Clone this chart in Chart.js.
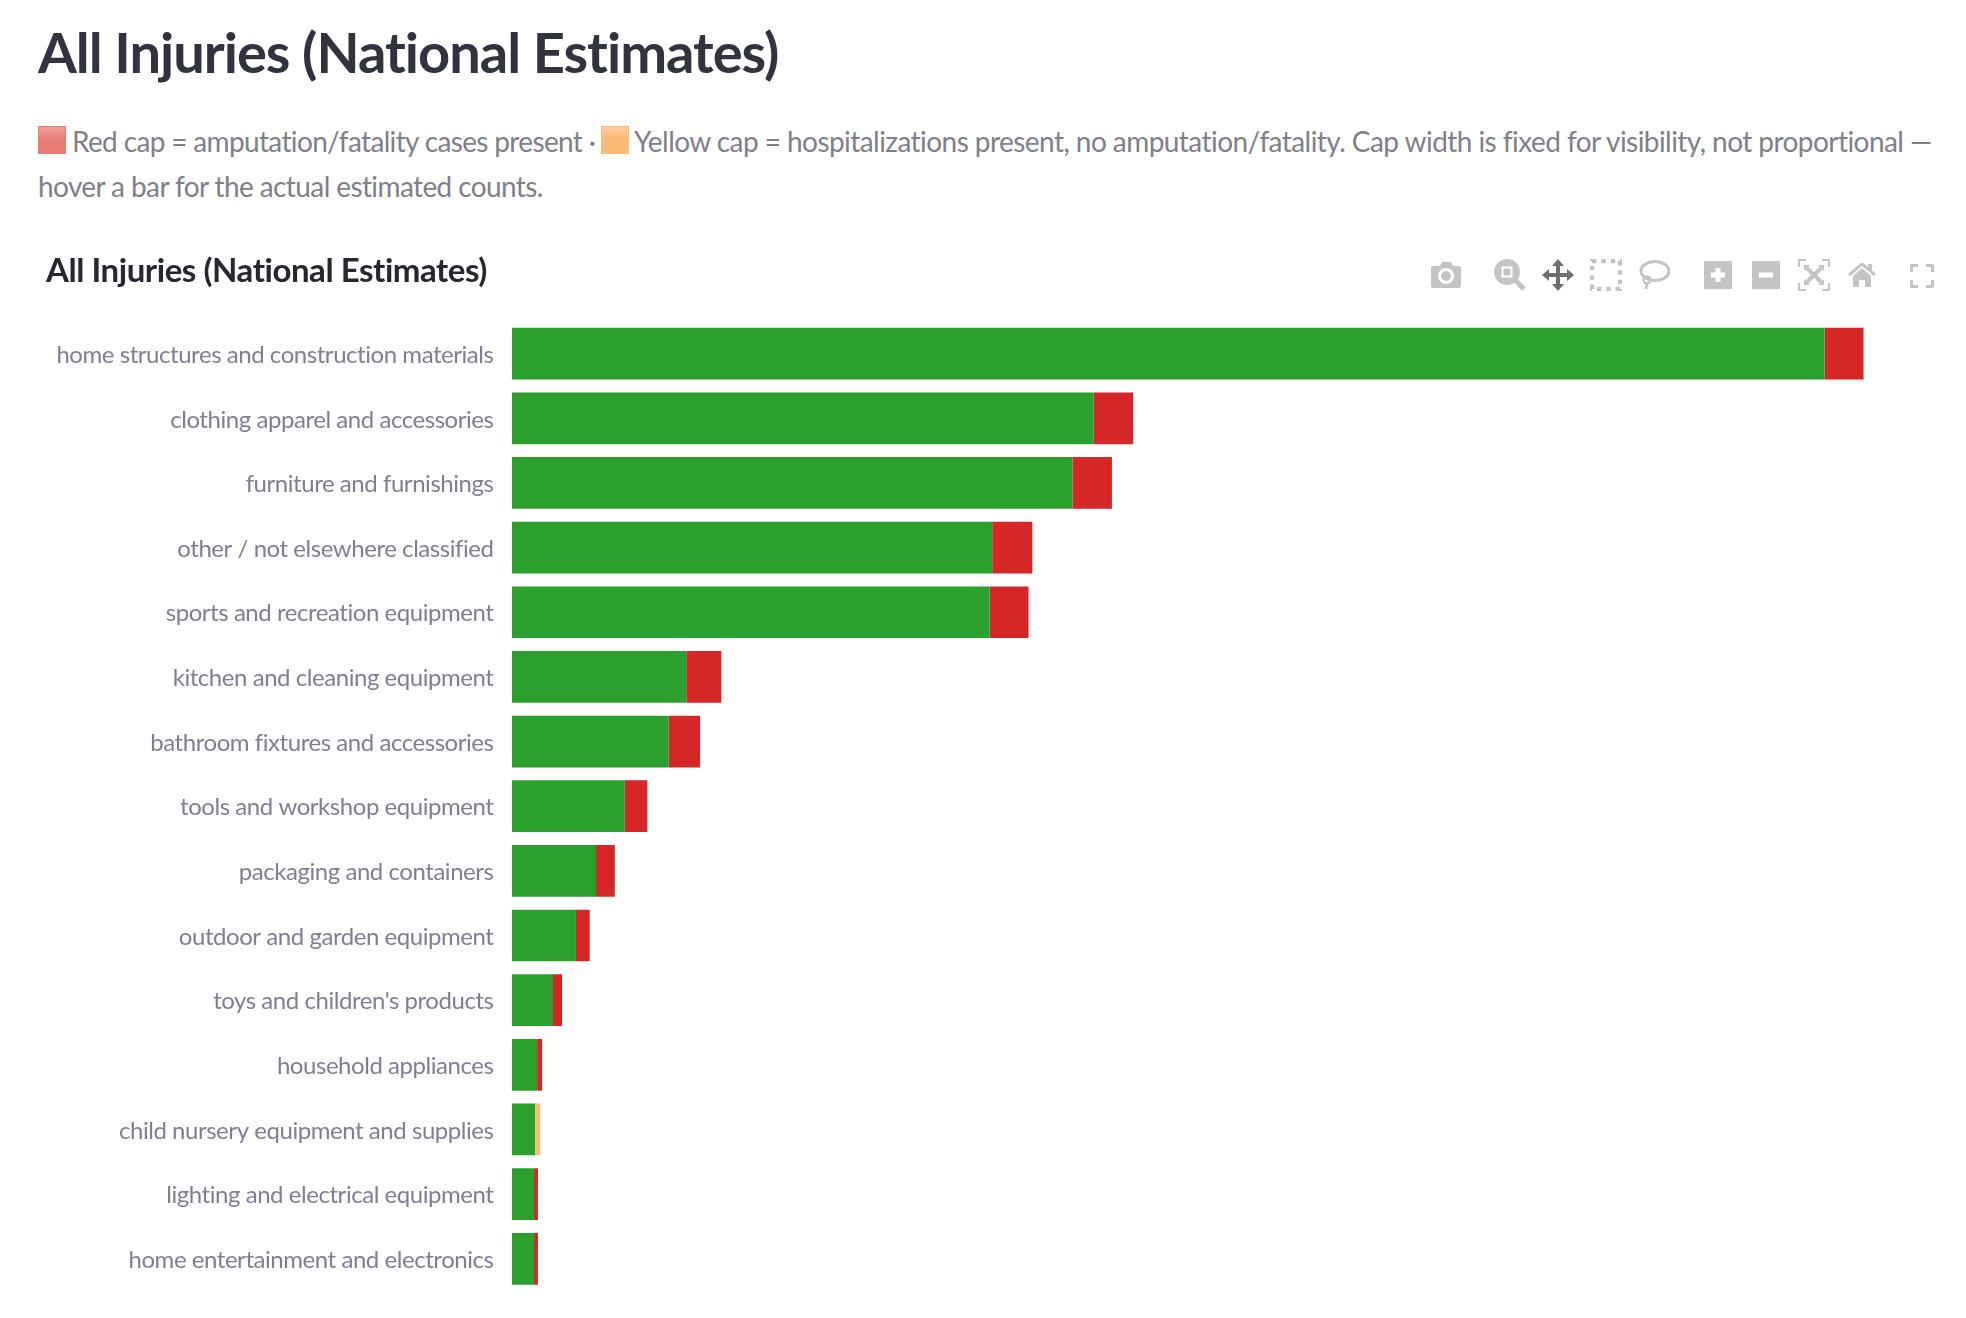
<!DOCTYPE html>
<html>
<head>
<meta charset="utf-8">
<title>All Injuries (National Estimates)</title>
<script src="https://cdn.jsdelivr.net/npm/chart.js"></script>
<style>
  html, body { margin: 0; padding: 0; background: #fff; }
  body { width: 1966px; height: 1318px; position: relative; overflow: hidden; font-family: Lato, sans-serif; }
  h1 { position: absolute; left: 38px; top: 17px; margin: 0; font-size: 56px; font-weight: 700; color: #31333f; line-height: 70px; white-space: nowrap; letter-spacing: -1px; }
  .note { position: absolute; margin: 0; font-size: 28px; line-height: 40px; color: #808089; white-space: nowrap; letter-spacing: -0.6px; }
  .swatch { position: absolute; top: 126px; width: 28px; height: 28px; box-sizing: border-box; }
  #chartWrap { position: absolute; left: 38px; top: 240px; width: 1928px; height: 1078px; }
  .tool { position: absolute; }
</style>
</head>
<body>
<h1>All Injuries (National Estimates)</h1>
<div class="swatch" style="left:38px;background:linear-gradient(#eda09b,#e87d76 45%);border:1px solid #e87d76"></div>
<p class="note" style="left:72px;top:121px;letter-spacing:-0.65px">Red cap = amputation/fatality cases present ·</p>
<div class="swatch" style="left:601px;background:linear-gradient(#ffd0a3,#ffb877 45%);border:1px solid #ffb877"></div>
<p class="note" style="left:634px;top:121px;letter-spacing:-0.555px">Yellow cap = hospitalizations present, no amputation/fatality. Cap width is fixed for visibility, not proportional —</p>
<p class="note" style="left:38px;top:166px">hover a bar for the actual estimated counts.</p>

<!-- modebar -->
<svg class="tool" style="left:1430px;top:260px" width="32" height="30" viewBox="0 0 32 30"><path fill="#c4c4c4" d="M3 6h7l2-4h9l2 4h6a2 2 0 0 1 2 2v18a2 2 0 0 1-2 2H3a2 2 0 0 1-2-2V8a2 2 0 0 1 2-2z"/><circle cx="16" cy="16" r="8" fill="#fff"/><circle cx="16" cy="16" r="5" fill="#c4c4c4"/></svg>
<svg class="tool" style="left:1494px;top:259px" width="32" height="32" viewBox="0 0 32 32"><circle cx="13" cy="13" r="13" fill="#c4c4c4"/><rect x="7.5" y="7.5" width="11" height="11" fill="#fff"/><rect x="9.5" y="9.5" width="7" height="7" fill="#c4c4c4"/><path d="M21 21l9 9" stroke="#c4c4c4" stroke-width="5"/></svg>
<svg class="tool" style="left:1542px;top:259px" width="32" height="32" viewBox="0 0 32 32"><path fill="#6e6e6e" d="M16 0l6 7h-4v7h7v-4l7 6-7 6v-4h-7v7h4l-6 7-6-7h4v-7H7v4l-7-6 7-6v4h7V7h-4z"/></svg>
<svg class="tool" style="left:1590px;top:259px" width="32" height="32" viewBox="0 0 32 32"><rect x="2" y="2" width="28" height="28" fill="none" stroke="#c4c4c4" stroke-width="4.500" stroke-dasharray="4.500 4.830"/></svg>
<svg class="tool" style="left:1638px;top:260px" width="32" height="30" viewBox="0 0 32 30"><ellipse cx="17" cy="11" rx="14" ry="9.5" fill="none" stroke="#c4c4c4" stroke-width="3"/><circle cx="9" cy="20" r="3.5" fill="none" stroke="#c4c4c4" stroke-width="2.500"/><path d="M9 23l-1 6" stroke="#c4c4c4" stroke-width="2.500"/></svg>
<svg class="tool" style="left:1704px;top:261px" width="28" height="28" viewBox="0 0 28 28"><rect width="28" height="28" fill="#c4c4c4"/><path d="M14 7v14M7 14h14" stroke="#fff" stroke-width="5"/></svg>
<svg class="tool" style="left:1752px;top:261px" width="28" height="28" viewBox="0 0 28 28"><rect width="28" height="28" fill="#c4c4c4"/><path d="M7 14h14" stroke="#fff" stroke-width="5"/></svg>
<svg class="tool" style="left:1798px;top:259px" width="32" height="32" viewBox="0 0 32 32"><path d="M1 8V1h7M24 1h7v7M31 24v7h-7M8 31H1v-7" fill="none" stroke="#c4c4c4" stroke-width="2"/><path d="M9 9l14 14M23 9L9 23" stroke="#c4c4c4" stroke-width="4"/><path d="M6 6h6l-6 6zM26 6v6l-6-6zM26 26h-6l6-6zM6 26v-6l6 6z" fill="#c4c4c4"/></svg>
<svg class="tool" style="left:1848px;top:263px" width="28" height="24" viewBox="0 0 28 24"><path d="M1 12L14 1l13 11" fill="none" stroke="#c4c4c4" stroke-width="3"/><path fill="#c4c4c4" d="M5 13l9-8 9 8v11h-6v-7h-6v7H5z"/><rect x="20" y="1" width="4" height="6" fill="#c4c4c4"/></svg>
<svg class="tool" style="left:1910px;top:264px" width="24" height="24" viewBox="0 0 24 24"><path d="M1.5 8V1.5H8M16 1.5h6.5V8M22.5 16v6.500H16M8 22.500H1.500V16" fill="none" stroke="#c4c4c4" stroke-width="3" stroke-linejoin="round"/></svg>

<div id="chartWrap"><canvas id="injuryChart"></canvas></div>

<script>
const chartTitle = "All Injuries (National Estimates)";

const categories = [
  "home structures and construction materials",
  "clothing apparel and accessories",
  "furniture and furnishings",
  "other / not elsewhere classified",
  "sports and recreation equipment",
  "kitchen and cleaning equipment",
  "bathroom fixtures and accessories",
  "tools and workshop equipment",
  "packaging and containers",
  "outdoor and garden equipment",
  "toys and children's products",
  "household appliances",
  "child nursery equipment and supplies",
  "lighting and electrical equipment",
  "home entertainment and electronics"
];

// no axis in the picture, so these are read off in rough counts
const otherCases = [1047000, 464000, 447000, 383000, 381000, 139000, 125000, 90000, 67000, 51000, 32700, 20000, 18400, 17500, 17500];
const redCaps = [31000, 31500, 31500, 32000, 31000, 28000, 25000, 18000, 15000, 11000, 7200, 4000, 0, 3200, 3200];
const yellowCaps = [0, 0, 0, 0, 0, 0, 0, 0, 0, 0, 0, 0, 4000, 0, 0];
const xMax = 1135000;

const labelSpacing = {
  id: "labelSpacing",
  beforeDraw(chart) { chart.ctx.letterSpacing = "-0.45px"; }
};

new Chart(document.getElementById("injuryChart"), {
  type: "bar",
  plugins: [labelSpacing],
  data: {
    labels: categories,
    datasets: [
      { label: "Other cases", data: otherCases, backgroundColor: "#2ca02c" },
      { label: "Amputation/fatality", data: redCaps, backgroundColor: "#d62728" },
      { label: "Hospitalization", data: yellowCaps, backgroundColor: "#ffbb78" }
    ]
  },
  options: {
    indexAxis: "y",
    responsive: true,
    maintainAspectRatio: false,
    animation: false,
    layout: { padding: { left: 8, right: 31, top: 0, bottom: 26.9 } },
    datasets: { bar: { barPercentage: 0.8, categoryPercentage: 1, borderWidth: 0 } },
    plugins: {
      legend: { display: false },
      title: {
        display: true,
        text: chartTitle,
        align: "start",
        color: "#262730",
        font: { family: "Lato", size: 33, weight: "bold" },
        padding: { top: 12, bottom: 29.7 }
      }
    },
    scales: {
      x: { stacked: true, display: false, min: 0, max: xMax },
      y: {
        stacked: true,
        grid: { display: false },
        border: { display: false },
        afterFit(scale) { scale.width = 466; },
        ticks: { color: "#7f7f93", padding: 10.5, labelOffset: 1.5, autoSkip: false, font: { family: "Lato", size: 24 } }
      }
    }
  }
});
</script>
</body>
</html>
